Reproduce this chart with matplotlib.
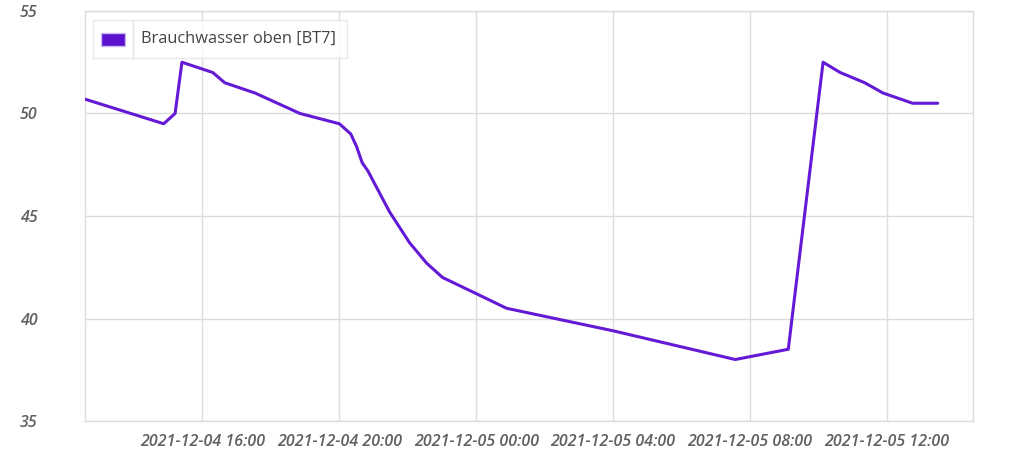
import matplotlib
matplotlib.use("Agg")
import matplotlib.pyplot as plt
import matplotlib.dates as mdates
import pandas as pd
from matplotlib.lines import Line2D
from matplotlib.patches import Rectangle

# readings of the upper hot-water sensor
times = ["2021-12-04 12:34", "2021-12-04 14:52", "2021-12-04 15:12", "2021-12-04 15:24",
         "2021-12-04 16:18", "2021-12-04 16:39", "2021-12-04 17:32", "2021-12-04 18:51",
         "2021-12-04 20:00", "2021-12-04 20:20", "2021-12-04 20:30", "2021-12-04 20:40",
         "2021-12-04 20:50", "2021-12-04 21:28", "2021-12-04 22:03", "2021-12-04 22:33",
         "2021-12-04 23:01", "2021-12-05 00:01", "2021-12-05 00:53", "2021-12-05 04:00",
         "2021-12-05 07:34", "2021-12-05 09:07", "2021-12-05 10:08", "2021-12-05 10:38",
         "2021-12-05 11:21", "2021-12-05 11:53", "2021-12-05 12:45", "2021-12-05 13:29"]
temps = [50.7, 49.5, 50.0, 52.5, 52.0, 51.5, 51.0, 50.0,
         49.5, 49.0, 48.4, 47.6, 47.2, 45.2, 43.7, 42.7,
         42.0, 41.2, 40.5, 39.4, 38.0, 38.5, 52.5, 52.0,
         51.5, 51.0, 50.5, 50.5]
label = "Brauchwasser oben [BT7]"
x_start, x_end = "2021-12-04 12:34", "2021-12-05 14:31"
y_ticks = [35, 40, 45, 50, 55]

t = pd.to_datetime(times)
col = "#6419d6"
grid = "#dcdcdc"
txt = "#606060"

fig = plt.figure(figsize=(10.2, 4.5), dpi=100)
ax = fig.add_axes([0.0833, 0.0644, 0.8707, 0.9112])

ax.plot(t, temps, color=col, lw=2.2, solid_joinstyle="round", solid_capstyle="round",
        label=label, zorder=3)

ax.set_xlim(pd.Timestamp(x_start), pd.Timestamp(x_end))
ax.set_ylim(35, 55)
ax.set_yticks(y_ticks)
ax.xaxis.set_major_locator(mdates.HourLocator(byhour=[0, 4, 8, 12, 16, 20]))
ax.xaxis.set_major_formatter(mdates.DateFormatter("%Y-%m-%d %H:%M"))
ax.grid(True, color=grid, lw=1.0)
ax.set_axisbelow(True)
for s in ax.spines.values():
    s.set_color(grid)
    s.set_linewidth(1.0)
ax.tick_params(length=0)
ax.tick_params(axis="y", pad=34)
ax.tick_params(axis="x", pad=9)
for lab in ax.get_xticklabels() + ax.get_yticklabels():
    lab.set_family("Open Sans")
    lab.set_style("italic")
    lab.set_weight("semibold")
    lab.set_color(txt)
    lab.set_fontsize(11.5)

leg = ax.legend(loc="upper left", bbox_to_anchor=(0.009, 0.978), borderaxespad=0,
                frameon=True, fancybox=False, edgecolor="#e4e4e4",
                handlelength=1.7, handleheight=0.9, handletextpad=0.58, borderpad=0.66,
                prop={"family": "Open Sans", "size": 11.8})
leg.get_frame().set_linewidth(1.0)
leg.legend_handles[0].set_visible(False)
for tx in leg.get_texts():
    tx.set_color("#444444")

# filled square and divider in the legend box, like the reference
fig.canvas.draw()
bb = leg.get_window_extent()
inv = fig.transFigure.inverted()
(x0, y0), (x1, y1) = inv.transform([[bb.x0, bb.y0], [bb.x1, bb.y1]])
px = 1 / 1020
py = 1 / 450
hgt = y1 - y0
fig.patches.append(Rectangle((x0 + 8 * px, y0 + hgt / 2 - 6.5 * py), 24 * px, 13 * py,
                             transform=fig.transFigure, facecolor="#5c10d0",
                             edgecolor="#c8b8ee", lw=1.0))
fig.lines.append(Line2D([x0 + 40 * px, x0 + 40 * px], [y0, y1], transform=fig.transFigure,
                        color="#e4e4e4", lw=1.0))

fig.savefig("out.png", dpi=100)
